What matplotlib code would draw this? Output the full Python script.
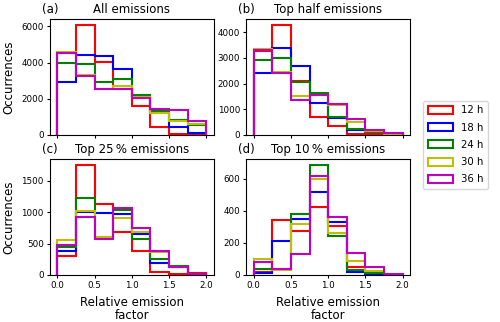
import numpy as np
import matplotlib
matplotlib.use('Agg')
import matplotlib.pyplot as plt

edges = np.arange(0, 2.01, 0.25)
centers = (edges[:-1] + edges[1:]) / 2

labels = ['12 h', '18 h', '24 h', '30 h', '36 h']
colors = ['r', 'b', 'g', 'y', 'm']

titles = ['All emissions', 'Top half emissions',
          'Top 25\u2009% emissions', 'Top 10\u2009% emissions']
letters = ['(a)', '(b)', '(c)', '(d)']

# counts per bin, one list per lead time
all_em = [
    [4550, 6100, 4050, 2550, 1600, 450, 50, 20],
    [2900, 4400, 4350, 3650, 2150, 1350, 450, 100],
    [4000, 3900, 2950, 3100, 2200, 1350, 850, 550],
    [4600, 3300, 2550, 2700, 2100, 1200, 800, 600],
    [4500, 3250, 2550, 2550, 2050, 1450, 1400, 800],
]
top_half = [
    [3250, 4300, 2100, 700, 350, 50, 20, 5],
    [2400, 3400, 2700, 1250, 650, 200, 100, 30],
    [2900, 3000, 2050, 1650, 700, 250, 120, 40],
    [3350, 2450, 1500, 1550, 1150, 500, 150, 50],
    [3300, 2400, 1350, 1550, 1200, 620, 200, 70],
]
top_25 = [
    [300, 1760, 1130, 680, 380, 50, 10, 25],
    [380, 1000, 985, 970, 650, 190, 130, 10],
    [450, 1220, 600, 1030, 580, 250, 150, 15],
    [550, 1020, 610, 910, 690, 370, 120, 20],
    [470, 920, 580, 1060, 750, 380, 120, 15],
]
top_10 = [
    [20, 345, 275, 425, 305, 50, 15, 0],
    [10, 210, 350, 520, 330, 20, 5, 0],
    [40, 40, 380, 690, 245, 30, 10, 0],
    [100, 30, 320, 600, 265, 90, 25, 0],
    [80, 40, 130, 620, 365, 140, 50, 5],
]
panels = [all_em, top_half, top_25, top_10]

fig, axes = plt.subplots(2, 2, figsize=(5, 3.22), dpi=100, sharex=True)
fig.subplots_adjust(left=0.10, right=0.82, top=0.941, bottom=0.146,
                    hspace=0.207, wspace=0.2)

for k, ax in enumerate(axes.flat):
    for i in range(len(labels)):
        ax.hist(centers, bins=edges, weights=panels[k][i], histtype='step',
                color=colors[i], lw=1.5, label=labels[i])
    ax.set_title(titles[k], fontsize=8.5, pad=4)
    ax.text(-0.05, 1.03, letters[k], transform=ax.transAxes,
            fontsize=8.5, ha='left', va='bottom')
    ax.tick_params(labelsize=6.3, length=2.5, pad=2)
    ax.set_xticks([0, 0.5, 1.0, 1.5, 2.0])

axes[0, 0].set_ylabel('Occurrences', fontsize=8.5)
axes[1, 0].set_ylabel('Occurrences', fontsize=8.5)
axes[1, 0].set_xlabel('Relative emission\nfactor', fontsize=8.5, linespacing=1.0)
axes[1, 1].set_xlabel('Relative emission\nfactor', fontsize=8.5, linespacing=1.0)

h, l = axes[0, 0].get_legend_handles_labels()
fig.legend(h, l, loc='center left', bbox_to_anchor=(0.846, 0.55),
           fontsize=7.3, handlelength=2.5, handleheight=0.85,
           handletextpad=0.8, labelspacing=0.72, borderpad=0.45,
           borderaxespad=0.0)

fig.savefig('out.png', dpi=100)
